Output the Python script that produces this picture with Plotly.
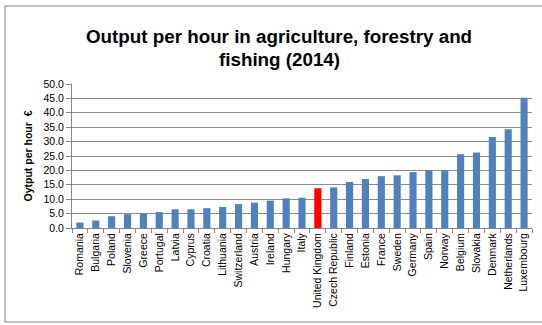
import plotly.graph_objects as go

countries = ["Romania", "Bulgaria", "Poland", "Slovenia", "Greece", "Portugal", "Latvia",
             "Cyprus", "Croatia", "Lithuania", "Switzerland", "Austria", "Ireland", "Hungary",
             "Italy", "United Kingdom", "Czech Republic", "Finland", "Estonia", "France",
             "Sweden", "Germany", "Spain", "Norway", "Belgium", "Slovakia", "Denmark",
             "Netherlands", "Luxembourg"]
output_per_hour = [1.9, 2.6, 4.1, 4.8, 5.1, 5.5, 6.5, 6.5, 6.9, 7.3, 8.3, 8.8, 9.5, 10.3,
                   10.5, 13.8, 14.1, 16.0, 17.0, 18.0, 18.3, 19.4, 19.9, 20.0, 25.6, 26.2,
                   31.6, 34.3, 45.2]
highlight = "United Kingdom"
y_ticks = [0, 5, 10, 15, 20, 25, 30, 35, 40, 45, 50]

bar_colors = ["#FF0000" if c == highlight else "#4F81BD" for c in countries]

fig = go.Figure(go.Bar(
    x=countries, y=output_per_hour,
    marker=dict(color=bar_colors, line=dict(width=0)),
    width=0.45,
))

W, H = 542, 325
ml, mr, mt, mb = 72, 10, 84, 97
pw, ph = W - ml - mr, H - mt - mb

font = "Liberation Sans, Arial, sans-serif"

fig.update_layout(
    width=W, height=H,
    margin=dict(l=ml, r=mr, t=mt, b=mb),
    paper_bgcolor="white", plot_bgcolor="white",
    showlegend=False,
    font=dict(family=font, color="#000000"),
    xaxis=dict(
        type="category", tickangle=-90, tickfont=dict(size=10.5),
        showline=True, linecolor="#868686", linewidth=1,
        ticks="outside", tickson="boundaries", ticklen=4, tickcolor="#868686",
        showgrid=False, range=[-0.5, len(countries) - 0.5],
    ),
    yaxis=dict(
        range=[0, 50], tickvals=y_ticks, ticktext=[f"{v:.1f}" for v in y_ticks],
        tickfont=dict(size=10.5),
        showline=True, linecolor="#868686", linewidth=1,
        ticks="outside", ticklen=5, tickcolor="#868686",
        showgrid=True, gridcolor="#8C8C8C", gridwidth=1, zeroline=False,
        title=dict(text="<b>Oytput per hour  €</b>", font=dict(size=10.5), standoff=8),
    ),
    annotations=[
        dict(
            text="<b>Output per hour in agriculture, forestry and</b>",
            xref="paper", yref="paper",
            x=(279 - ml) / pw, y=(H - mb - 36) / ph,
            xanchor="center", yanchor="middle", showarrow=False,
            font=dict(size=18.8, family=font),
        ),
        dict(
            text="<b>fishing (2014)</b>",
            xref="paper", yref="paper",
            x=(279 - ml) / pw, y=(H - mb - 60) / ph,
            xanchor="center", yanchor="middle", showarrow=False,
            font=dict(size=18.8, family=font),
        ),
    ],
    shapes=[dict(
        type="rect", xref="paper", yref="paper",
        x0=(5 - ml) / pw, x1=(570 - ml) / pw,
        y0=(H - mb - 322) / ph, y1=(H - mb - 6) / ph,
        line=dict(color="#868686", width=1), fillcolor="rgba(0,0,0,0)", layer="below",
    )],
)

fig.write_html("out.html")
